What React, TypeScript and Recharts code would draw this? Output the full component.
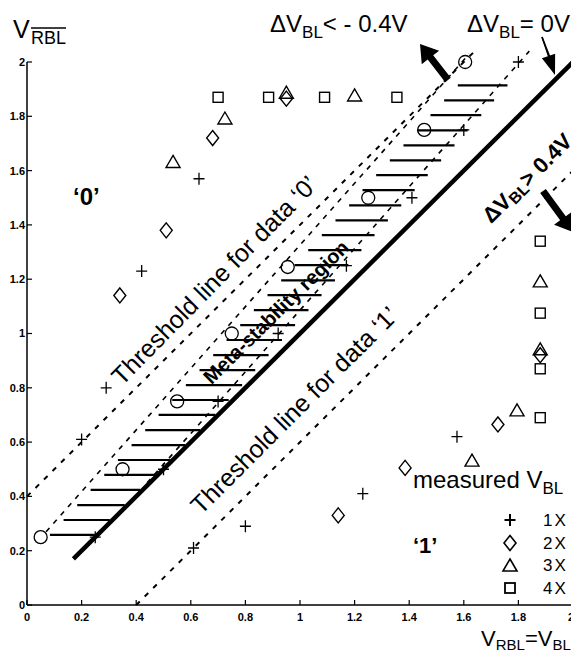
import React from 'react';
import { ScatterChart, Scatter, XAxis, YAxis, ReferenceLine } from 'recharts';

const xTicks = [0, 0.2, 0.4, 0.6, 0.8, 1, 1.2, 1.4, 1.6, 1.8, 2];
const yTicks = [0, 0.2, 0.4, 0.6, 0.8, 1, 1.2, 1.4, 1.6, 1.8, 2];

const data1X = [
  { x: 0.2, y: 0.61 }, { x: 0.29, y: 0.8 }, { x: 0.42, y: 1.23 }, { x: 0.63, y: 1.57 },
  { x: 0.25, y: 0.25 }, { x: 0.5, y: 0.5 }, { x: 0.7, y: 0.75 }, { x: 0.92, y: 1.0 },
  { x: 1.17, y: 1.25 }, { x: 1.41, y: 1.5 }, { x: 1.6, y: 1.75 }, { x: 1.8, y: 2.0 },
  { x: 0.61, y: 0.21 }, { x: 0.8, y: 0.29 }, { x: 1.23, y: 0.41 }, { x: 1.575, y: 0.62 },
];
const data2X = [
  { x: 0.34, y: 1.14 }, { x: 0.51, y: 1.38 }, { x: 0.68, y: 1.72 }, { x: 0.95, y: 1.865 },
  { x: 1.14, y: 0.33 }, { x: 1.385, y: 0.505 }, { x: 1.725, y: 0.665 }, { x: 1.88, y: 0.92 },
];
const data3X = [
  { x: 0.535, y: 1.63 }, { x: 0.725, y: 1.79 }, { x: 0.95, y: 1.885 }, { x: 1.2, y: 1.875 },
  { x: 1.88, y: 1.19 }, { x: 1.88, y: 0.94 }, { x: 1.795, y: 0.715 }, { x: 1.63, y: 0.53 },
];
const data4X = [
  { x: 0.7, y: 1.87 }, { x: 0.885, y: 1.87 }, { x: 1.09, y: 1.87 }, { x: 1.355, y: 1.87 },
  { x: 1.88, y: 1.34 }, { x: 1.88, y: 1.075 }, { x: 1.88, y: 0.87 }, { x: 1.88, y: 0.69 },
];
const dataCircle = [
  { x: 0.05, y: 0.25 }, { x: 0.35, y: 0.5 }, { x: 0.55, y: 0.75 }, { x: 0.75, y: 1.0 },
  { x: 0.955, y: 1.245 }, { x: 1.25, y: 1.5 }, { x: 1.455, y: 1.75 }, { x: 1.605, y: 2.0 },
];

// lines
const zeroLine = [{ x: 0.17, y: 0.17 }, { x: 2, y: 2 }];
const threshold0 = [{ x: 0, y: 0.4 }, { x: 1.65, y: 2.05 }];
const threshold1 = [{ x: 0.4, y: 0 }, { x: 2, y: 1.6 }];
const metaLeft = [{ x: 0.07, y: 0.27 }, { x: 1.62, y: 2.03 }];
const metaRight = [{ x: 0.44, y: 0.45 }, { x: 1.84, y: 2.04 }];

// hatch lines of the meta-stability region
const hatchY = [0.258, 0.313, 0.368, 0.424, 0.479, 0.534, 0.589, 0.644, 0.7, 0.755, 0.81, 0.865, 0.92, 0.976, 1.031, 1.086, 1.141, 1.196, 1.252, 1.307, 1.362, 1.417, 1.472, 1.528, 1.583, 1.638, 1.693, 1.748, 1.804, 1.859, 1.914];
const hatchXLeft = [0.084, 0.134, 0.184, 0.233, 0.283, 0.333, 0.383, 0.433, 0.482, 0.532, 0.582, 0.632, 0.682, 0.731, 0.781, 0.831, 0.881, 0.931, 0.98, 1.03, 1.08, 1.13, 1.18, 1.229, 1.279, 1.329, 1.379, 1.429, 1.478, 1.528, 1.578];
const hatchXRight = [0.248, 0.303, 0.358, 0.414, 0.469, 0.524, 0.579, 0.634, 0.69, 0.739, 0.788, 0.836, 0.885, 0.934, 0.982, 1.031, 1.079, 1.128, 1.177, 1.225, 1.273, 1.322, 1.371, 1.42, 1.468, 1.517, 1.566, 1.614, 1.664, 1.711, 1.76];

const legendLabels = ['1X', '2X', '3X', '4X'];

const FONT = 'Liberation Sans, Arial, Helvetica, sans-serif';
const W = 571;
const H = 652;

const Plus = (p: any) => (
  <path d={`M${p.cx - 5.5},${p.cy}h11M${p.cx},${p.cy - 6}v12`} stroke="#000" strokeWidth={p.sw || 1.3} fill="none" />
);
const Diamond = (p: any) => (
  <path d={`M${p.cx},${p.cy - 7.5}L${p.cx + 6},${p.cy}L${p.cx},${p.cy + 7.5}L${p.cx - 6},${p.cy}Z`} stroke="#000" strokeWidth={p.sw || 1.4} fill="none" />
);
const Triangle = (p: any) => (
  <path d={`M${p.cx},${p.cy - 7}L${p.cx + 7},${p.cy + 5}L${p.cx - 7},${p.cy + 5}Z`} stroke="#000" strokeWidth={p.sw || 1.4} fill="none" />
);
const Square = (p: any) => (
  <rect x={p.cx - 5} y={p.cy - 5} width={10} height={10} stroke="#000" strokeWidth={p.sw || 1.4} fill="none" />
);
const Circle = (p: any) => (
  <circle cx={p.cx} cy={p.cy} r={6.5} stroke="#000" strokeWidth={1.3} fill="none" />
);

const XTick = (p: any) => {
  const last = p.index === xTicks.length - 1;
  return (
    <text x={last ? p.x + 1 : p.x} y={p.y} dy="0.71em" textAnchor={last ? 'end' : 'middle'} fontSize={11} fontWeight="bold" fill="#000" fontFamily={FONT}>
      {String(p.payload.value)}
    </text>
  );
};
const YTick = (p: any) => (
  <text x={p.x} y={p.y} dy="0.355em" textAnchor="end" fontSize={11} fontWeight="bold" fill="#000" fontFamily={FONT}>
    {String(p.payload.value)}
  </text>
);

function thickArrow(tx: number, ty: number, px: number, py: number, shaft: number, headW: number, headL: number) {
  const dx = px - tx, dy = py - ty;
  const len = Math.sqrt(dx * dx + dy * dy);
  const ux = dx / len, uy = dy / len;
  const nx = -uy, ny = ux;
  const bx = px - ux * headL, by = py - uy * headL;
  const pts = [
    [tx + nx * shaft / 2, ty + ny * shaft / 2],
    [bx + nx * shaft / 2, by + ny * shaft / 2],
    [bx + nx * headW / 2, by + ny * headW / 2],
    [px, py],
    [bx - nx * headW / 2, by - ny * headW / 2],
    [bx - nx * shaft / 2, by - ny * shaft / 2],
    [tx - nx * shaft / 2, ty - ny * shaft / 2],
  ];
  return pts.map((q) => q.join(',')).join(' ');
}

const Overlay = () => (
  <svg width={W} height={H} style={{ position: 'absolute', left: 0, top: 0, pointerEvents: 'none', overflow: 'visible' }} fontFamily={FONT}>
    {/* y label */}
    <text x={5} y={30} fontSize={25} fill="#000">V</text>
    <text x={23} y={36} fontSize={18} fill="#000">RBL</text>
    <line x1={23} y1={20} x2={58} y2={20} stroke="#000" strokeWidth={1.3} />
    {/* x label */}
    <text x={473} y={638} fontSize={22} fill="#000">
      V<tspan fontSize={15} dy={4}>RBL</tspan><tspan dy={-4}>=V</tspan><tspan fontSize={15} dy={4}>BL</tspan>
    </text>
    {/* top texts */}
    <text x={262} y={24} fontSize={24} fill="#000">
      ΔV<tspan fontSize={17} dy={6}>BL</tspan><tspan dy={-6}>{'< - 0.4V'}</tspan>
    </text>
    <text x={459} y={24} fontSize={24} fill="#000">
      ΔV<tspan fontSize={17} dy={6}>BL</tspan><tspan dy={-6}>= 0V</tspan>
    </text>
    <text x={519} y={170} fontSize={22} fontWeight="bold" fill="#000" textAnchor="middle" dominantBaseline="central" transform="rotate(-45 519 170)">
      ΔV<tspan fontSize={16} dy={5}>BL</tspan><tspan dy={-5}>{'> 0.4V'}</tspan>
    </text>
    {/* region labels */}
    <text x={65} y={197} fontSize={24} fontWeight="bold" fill="#000">‘0’</text>
    <text x={405} y={545} fontSize={22} fontWeight="bold" fill="#000">‘1’</text>
    <text x={206} y={272} fontSize={25} fill="#000" textAnchor="middle" dominantBaseline="central" transform="rotate(-45.5 206 272)">Threshold line for data ‘0’</text>
    <text x={286} y={402} fontSize={25} fill="#000" textAnchor="middle" dominantBaseline="central" transform="rotate(-45 286 402)">Threshold line for data ‘1’</text>
    <text x={268} y={304} fontSize={20} fontWeight="bold" fill="#000" textAnchor="middle" dominantBaseline="central" transform="rotate(-44.5 268 304)">Meta-stability region</text>
    {/* arrows */}
    <polygon points={thickArrow(440, 72, 412, 36, 7, 22, 17)} fill="#000" />
    <polygon points={thickArrow(535, 183, 565, 224, 7, 22, 17)} fill="#000" />
    <line x1={534} y1={29} x2={543} y2={52} stroke="#000" strokeWidth={1.5} />
    <polygon points={thickArrow(534, 29, 547, 67, 1.5, 14, 20)} fill="#000" />
    {/* legend */}
    <text x={405} y={480} fontSize={24} fill="#000">
      measured V<tspan fontSize={17} dy={6}>BL</tspan>
    </text>
    <Plus cx={502} cy={512} sw={2} />
    <Diamond cx={502} cy={535} sw={1.6} />
    <Triangle cx={502} cy={558} sw={1.6} />
    <Square cx={502} cy={580} sw={1.8} />
    {legendLabels.map((l, i) => (
      <text key={l} x={535} y={518 + i * 22.7} fontSize={17} letterSpacing={2} fill="#000">{l}</text>
    ))}
  </svg>
);

export default function App() {
  return (
    <div style={{ position: 'relative', width: W, height: H, marginBottom: -8 }}>
      <style>{'html,body{overflow:hidden;} .recharts-surface{overflow:visible;}'}</style>
      <ScatterChart width={W} height={H} margin={{ top: 54, right: 6, bottom: 0, left: 0 }} style={{ overflow: 'visible' }}>
        <XAxis type="number" dataKey="x" domain={[0, 2]} ticks={xTicks} height={55} tickSize={-5} tickMargin={13}
          axisLine={{ stroke: '#000', strokeWidth: 1.5 }} tickLine={{ stroke: '#000', strokeWidth: 1.2 }} tick={XTick} interval={0} />
        <YAxis type="number" dataKey="y" domain={[0, 2]} ticks={yTicks} width={19} tickSize={-5} tickMargin={7}
          axisLine={{ stroke: '#000', strokeWidth: 1.5 }} tickLine={{ stroke: '#000', strokeWidth: 1.2 }} tick={YTick} interval={0} />
        {hatchY.map((y, i) => (
          <ReferenceLine key={'h' + i} segment={[{ x: hatchXLeft[i], y }, { x: hatchXRight[i], y }]} stroke="#000" strokeWidth={2.2} ifOverflow="visible" />
        ))}
        <ReferenceLine segment={metaLeft} stroke="#000" strokeWidth={1.6} strokeDasharray="5 6" ifOverflow="visible" />
        <ReferenceLine segment={metaRight} stroke="#000" strokeWidth={1.6} strokeDasharray="5 6" ifOverflow="visible" />
        <ReferenceLine segment={threshold0} stroke="#000" strokeWidth={2} strokeDasharray="5 7" ifOverflow="visible" />
        <ReferenceLine segment={threshold1} stroke="#000" strokeWidth={2} strokeDasharray="5 7" ifOverflow="visible" />
        <ReferenceLine segment={zeroLine} stroke="#000" strokeWidth={4.5} ifOverflow="visible" />
        <Scatter data={dataCircle} shape={Circle} isAnimationActive={false} />
        <Scatter data={data1X} shape={Plus} isAnimationActive={false} />
        <Scatter data={data2X} shape={Diamond} isAnimationActive={false} />
        <Scatter data={data3X} shape={Triangle} isAnimationActive={false} />
        <Scatter data={data4X} shape={Square} isAnimationActive={false} />
      </ScatterChart>
      <Overlay />
    </div>
  );
}
